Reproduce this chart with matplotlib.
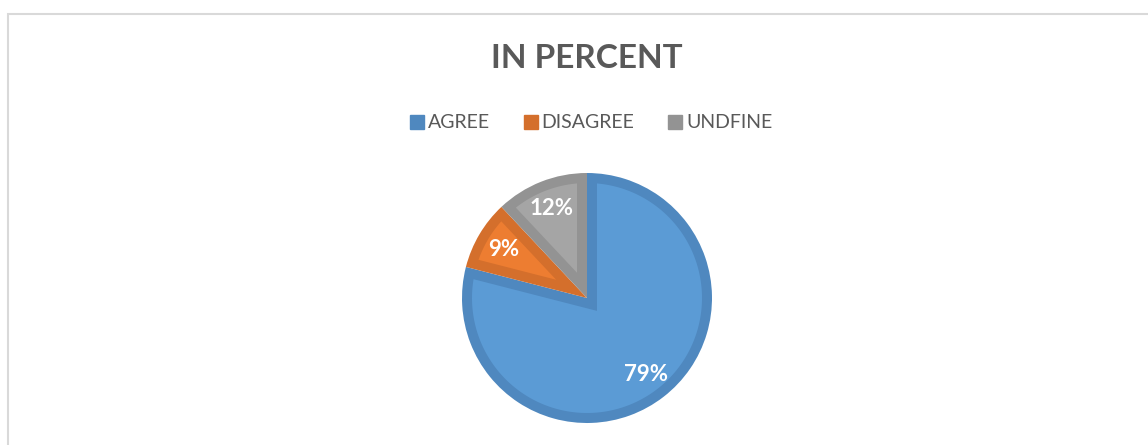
import numpy as np
import matplotlib.pyplot as plt
from matplotlib.lines import Line2D
from matplotlib.patches import Rectangle, Polygon

# data
labels = ['AGREE', 'DISAGREE', 'UNDFINE']
values = [79, 9, 12]
fill_colors = ['#5B9BD5', '#ED7D31', '#A5A5A5']
edge_colors = ['#4F88BF', '#D46F2C', '#939393']

plt.rcParams['font.family'] = ['Lato', 'DejaVu Sans']

W, H = 1148, 445
fig = plt.figure(figsize=(W / 100, H / 100), dpi=100)

# chart frame (runs off the right and bottom edges)
fig.patches.append(Rectangle((8 / W, -0.1), 1.2, 1 - 14 / H + 0.1,
                             transform=fig.transFigure, fill=False,
                             edgecolor='#D9D9D9', linewidth=1.5))

# pie axes: centre (587, 298) px, radius 125 px
cx, cy, r = 587, 298, 125
ax = fig.add_axes([(cx - r) / W, (H - cy - r) / H, 2 * r / W, 2 * r / H])
wedges, texts, autotexts = ax.pie(values, colors=edge_colors, startangle=90,
                                  counterclock=False, autopct='%1.0f%%',
                                  pctdistance=0.77,
                                  wedgeprops=dict(linewidth=0),
                                  textprops=dict(color='white', fontsize=16,
                                                 fontweight='bold'))


def inset_wedge(w, d):
    # lighter fill inside the darker band of width d
    t1, t2 = np.radians(w.theta1), np.radians(w.theta2)
    R = w.r
    half = (t2 - t1) / 2
    bis = t1 + half
    a = d / np.sin(half)
    apex = (w.center[0] + a * np.cos(bis), w.center[1] + a * np.sin(bis))
    phi = np.arcsin(d / (R - d))
    ts = np.linspace(t1 + phi, t2 - phi, 200)
    pts = [apex] + [(w.center[0] + (R - d) * np.cos(t),
                     w.center[1] + (R - d) * np.sin(t)) for t in ts]
    return pts


band = 10 / r
for w, fc in zip(wedges, fill_colors):
    ax.add_patch(Polygon(inset_wedge(w, band), closed=True, facecolor=fc,
                         edgecolor='none', zorder=w.get_zorder() + 0.1))
for t in autotexts:
    t.set_zorder(5)

ax.set_xlim(-1, 1)
ax.set_ylim(-1, 1)
ax.axis('off')

fig.text(587 / W, 1 - 59 / H, 'IN PERCENT', ha='center', va='center',
         fontsize=24, fontweight='bold', color='#595959')

handles = [Line2D([], [], marker='s', linestyle='none', markersize=10,
                  markerfacecolor=c, markeredgecolor=c) for c in edge_colors]
fig.legend(handles, labels, loc='center', bbox_to_anchor=(590 / W, 1 - 123 / H),
           ncol=3, frameon=False, fontsize=14, handletextpad=0.05,
           columnspacing=1.6, handlelength=1.0, labelcolor='#595959')

plt.savefig('out.png', dpi=100)
